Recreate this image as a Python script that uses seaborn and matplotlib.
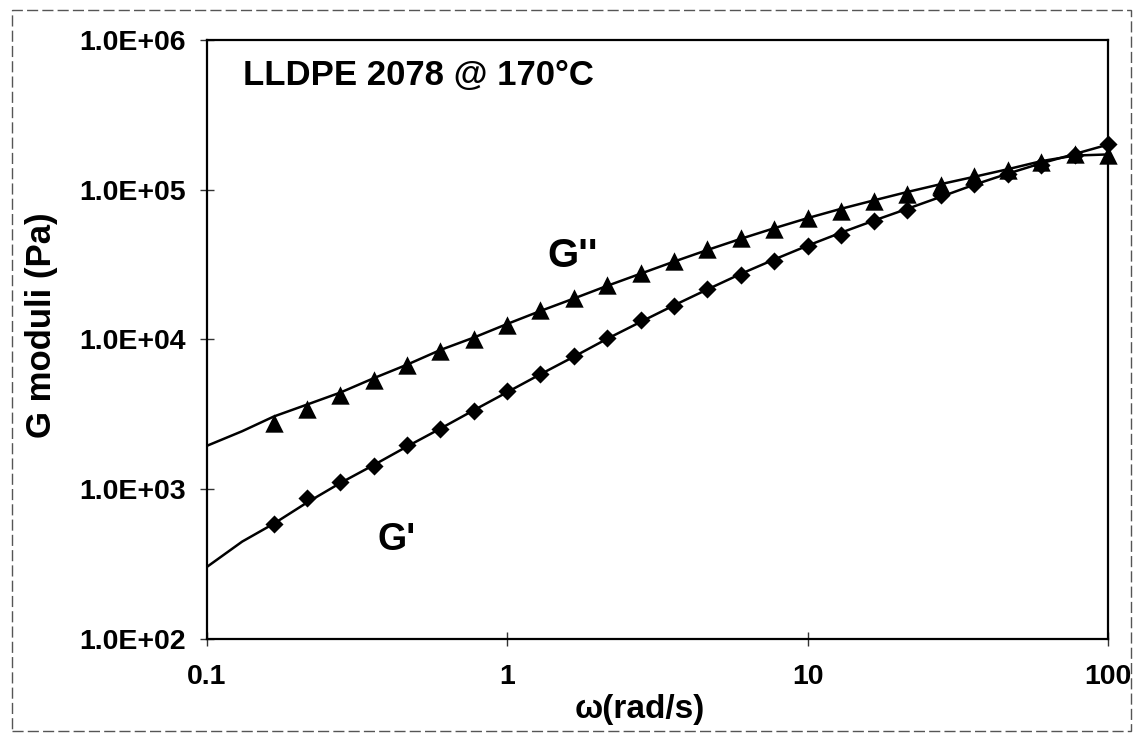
import matplotlib
matplotlib.use("Agg")
import matplotlib.pyplot as plt
import pandas as pd
import seaborn as sns
from matplotlib.patches import Rectangle
from matplotlib.ticker import FixedLocator, FuncFormatter, NullLocator

# Frequency sweep of LLDPE 2078 at 170 °C
omega = [0.167, 0.215, 0.278, 0.359, 0.464, 0.599, 0.774, 1.0, 1.29, 1.67,
         2.15, 2.78, 3.59, 4.64, 5.99, 7.74, 10.0, 12.9, 16.7, 21.5,
         27.8, 35.9, 46.4, 59.9, 77.4, 100.0]
g_storage = [582, 875, 1110, 1420, 1970, 2540, 3310, 4530, 5910, 7710,
             10200, 13400, 16600, 21700, 27100, 33200, 42100, 50100, 61500, 73300,
             92700, 110000, 127000, 147000, 170000, 202000]
g_loss = [2750, 3440, 4280, 5340, 6760, 8420, 10000, 12500, 15800, 18800,
          23100, 27900, 33200, 40200, 47800, 54400, 64800, 72400, 83600, 93700,
          108000, 123000, 136000, 152000, 173000, 171000]

# Model fit curves
fit_omega = [0.1, 0.131, 0.167, 0.215, 0.278, 0.359, 0.464, 0.599, 0.774, 1.0,
             1.29, 1.67, 2.15, 2.78, 3.59, 4.64, 5.99, 7.74, 10.0, 12.9,
             16.7, 21.5, 27.8, 35.9, 46.4, 59.9, 77.4, 100.0]
fit_storage = [303, 447, 589, 813, 1100, 1450, 1930, 2540, 3370, 4450,
               5860, 7690, 10100, 13100, 16900, 21600, 27400, 34200, 42300, 51600,
               62400, 74600, 89700, 108000, 128000, 150000, 173000, 200000]
fit_loss = [1950, 2440, 3060, 3670, 4420, 5510, 6790, 8510, 10300, 12700,
            15500, 18800, 22800, 27500, 33100, 39600, 47000, 55300, 64600, 74500,
            85100, 96600, 109000, 122000, 137000, 155000, 169000, 172000]

x_ticks = [0.1, 1, 10, 100]
y_ticks = [1e2, 1e3, 1e4, 1e5, 1e6]

sns.set_theme(style="white")
plt.rcParams["font.family"] = ["Liberation Sans", "DejaVu Sans"]
plt.rcParams["font.weight"] = "bold"
plt.rcParams["text.color"] = "black"
plt.rcParams["axes.labelcolor"] = "black"

measured = pd.DataFrame({"omega": omega, "Gp": g_storage, "Gpp": g_loss})
fitted = pd.DataFrame({"omega": fit_omega, "Gp": fit_storage, "Gpp": fit_loss})

fig = plt.figure(figsize=(11.34, 7.37), dpi=100)
ax = fig.add_axes([0.1825, 0.133, 0.7945, 0.8128])
ax.set_xscale("log")
ax.set_yscale("log")

sns.lineplot(data=fitted, x="omega", y="Gpp", ax=ax, color="black",
             linewidth=1.8, sort=False, zorder=2)
sns.lineplot(data=fitted, x="omega", y="Gp", ax=ax, color="black",
             linewidth=1.8, sort=False, zorder=2)
sns.scatterplot(data=measured, x="omega", y="Gpp", ax=ax, marker="^", s=175,
                color="black", edgecolor="black", linewidth=0, zorder=3,
                clip_on=False)
sns.scatterplot(data=measured, x="omega", y="Gp", ax=ax, marker="D", s=85,
                color="black", edgecolor="black", linewidth=0, zorder=3,
                clip_on=False)

ax.set_xlim(0.1, 100)
ax.set_ylim(1e2, 1e6)
ax.xaxis.set_major_locator(FixedLocator(x_ticks))
ax.yaxis.set_major_locator(FixedLocator(y_ticks))
ax.xaxis.set_minor_locator(NullLocator())
ax.yaxis.set_minor_locator(NullLocator())
ax.xaxis.set_major_formatter(FuncFormatter(lambda v, p: "0.1" if v < 1 else f"{v:g}"))
ax.yaxis.set_major_formatter(FuncFormatter(lambda v, p: f"{v:.1E}"))

ax.tick_params(axis="both", which="major", direction="inout", length=10,
               width=1, color="#333333", labelsize=20.5, labelcolor="black",
               left=True, bottom=True, right=False, top=False)
ax.tick_params(axis="y", pad=10)
ax.tick_params(axis="x", pad=13)
for lab in ax.get_xticklabels() + ax.get_yticklabels():
    lab.set_fontweight("bold")

for side in ["left", "bottom", "right", "top"]:
    ax.spines[side].set_visible(True)
    ax.spines[side].set_color("black")
    ax.spines[side].set_linewidth(1.6)

ax.set_xlabel("ω(rad/s)", fontsize=24, fontweight="bold", color="black")
ax.xaxis.set_label_coords(0.48, -0.092)
ax.set_ylabel("G moduli (Pa)", fontsize=25, fontweight="bold", color="black")
ax.yaxis.set_label_coords(-0.165, 0.524)

ax.text(0.040, 0.940, "LLDPE 2078 @ 170°C", transform=ax.transAxes,
        fontsize=25, fontweight="bold", ha="left", va="center", color="black")
ax.text(0.406, 0.639, "G''", transform=ax.transAxes,
        fontsize=29, fontweight="bold", ha="center", va="center", color="black")
ax.text(0.210, 0.165, "G'", transform=ax.transAxes,
        fontsize=27, fontweight="bold", ha="center", va="center", color="black")

# thin dashed frame around the whole chart area
fig.add_artist(Rectangle((0.0106, 0.0081), 0.9868, 0.9783,
                         transform=fig.transFigure, fill=False,
                         linewidth=1.0, linestyle=(0, (8, 3)),
                         edgecolor="#555555"))

fig.savefig("out.png", dpi=100)
